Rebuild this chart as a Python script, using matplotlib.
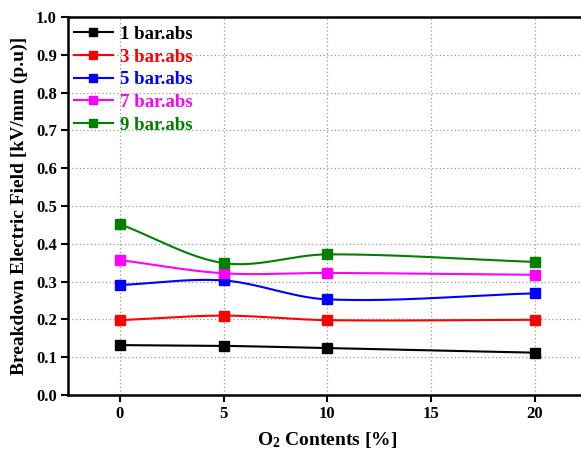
import matplotlib
matplotlib.use("Agg")
import matplotlib.pyplot as plt
import numpy as np

o2_content = [0, 5, 10, 20]
field_1bar = [0.132, 0.130, 0.124, 0.112]
field_3bar = [0.198, 0.210, 0.198, 0.199]
field_5bar = [0.291, 0.303, 0.253, 0.269]
field_7bar = [0.357, 0.322, 0.323, 0.318]
field_9bar = [0.452, 0.349, 0.372, 0.352]

series_labels = ["1 bar.abs", "3 bar.abs", "5 bar.abs", "7 bar.abs", "9 bar.abs"]
series_colors = ["black", "#ff0000", "#0000ff", "#ff00ff", "#008000"]


def smooth_curve(x, y, n=200):
    # cubic Hermite through the points, slopes from the neighbouring points
    x = np.asarray(x, float)
    y = np.asarray(y, float)
    m = np.empty_like(y)
    m[0] = (y[1] - y[0]) / (x[1] - x[0])
    m[-1] = (y[-1] - y[-2]) / (x[-1] - x[-2])
    m[1:-1] = (y[2:] - y[:-2]) / (x[2:] - x[:-2])
    xs = np.linspace(x[0], x[-1], n)
    idx = np.clip(np.searchsorted(x, xs, side="right") - 1, 0, len(x) - 2)
    h = x[idx + 1] - x[idx]
    t = (xs - x[idx]) / h
    h00 = 2 * t ** 3 - 3 * t ** 2 + 1
    h10 = t ** 3 - 2 * t ** 2 + t
    h01 = -2 * t ** 3 + 3 * t ** 2
    h11 = t ** 3 - t ** 2
    ys = h00 * y[idx] + h10 * h * m[idx] + h01 * y[idx + 1] + h11 * h * m[idx + 1]
    return xs, ys


plt.rcParams["font.family"] = ["Liberation Serif", "DejaVu Serif"]
plt.rcParams["font.weight"] = "bold"
plt.rcParams["mathtext.fontset"] = "custom"
plt.rcParams["mathtext.rm"] = "Liberation Serif:bold"
plt.rcParams["mathtext.default"] = "rm"

fig = plt.figure(figsize=(5.81, 4.57), dpi=100)
ax = fig.add_axes([68 / 581, 1 - 395 / 457, (581 - 68) / 581 + 0.01, (395 - 17) / 457])

all_series = [field_1bar, field_3bar, field_5bar, field_7bar, field_9bar]
for vals, label, color in zip(all_series, series_labels, series_colors):
    xs, ys = smooth_curve(o2_content, vals)
    ax.plot(xs, ys, color=color, lw=1.5, zorder=3)
    ax.plot(o2_content, vals, ls="none", marker="s", ms=6.5, color=color, zorder=4)
    ax.plot([], [], color=color, lw=1.5, marker="s", ms=6, label=label)

ax.set_xlim(-2.5, 22.5)
ax.set_ylim(0, 1.0)
ax.set_xticks([0, 5, 10, 15, 20])
ax.set_yticks(np.arange(0, 1.01, 0.1))
ax.yaxis.set_major_formatter(matplotlib.ticker.FormatStrFormatter("%.1f"))
ax.grid(True, ls=(0, (1, 2)), color="#999999", lw=0.9)
ax.set_axisbelow(True)

for spine in ax.spines.values():
    spine.set_linewidth(1.8)
ax.tick_params(direction="out", width=1.5, length=5, labelsize=12, pad=3)

ax.set_xlabel(r"O$_2$ Contents [%]", fontsize=14, fontweight="bold", labelpad=6)
ax.set_ylabel("Breakdown Electric Field [kV/mm (p.u)]", fontsize=14, fontweight="bold", labelpad=6)

leg = ax.legend(loc="upper left", bbox_to_anchor=(0.0, 0.992), frameon=False, fontsize=13.5,
                handlelength=2.1, borderaxespad=0.0, borderpad=0.3, labelspacing=0.3,
                handletextpad=0.35)
for text, color in zip(leg.get_texts(), series_colors):
    text.set_color(color)

fig.savefig("out.png", dpi=100)
